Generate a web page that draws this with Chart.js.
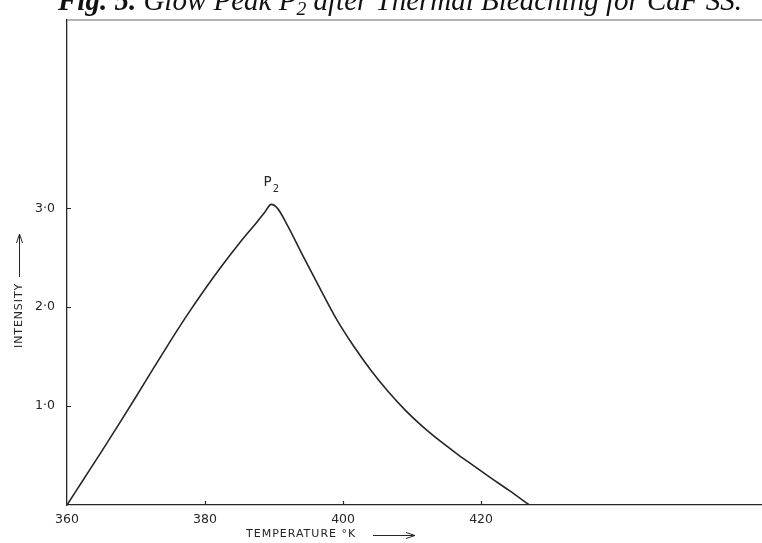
<!DOCTYPE html>
<html>
<head>
<meta charset="utf-8">
<script src="https://cdn.jsdelivr.net/npm/chart.js@4.4.1/dist/chart.umd.min.js"></script>
<style>
  html, body { margin: 0; padding: 0; background: #fff; }
  #glowChart { display: block; }
</style>
</head>
<body>
<canvas id="glowChart" width="762" height="543"></canvas>
<script>
// glow curve readings, temperature in degrees K against relative intensity
const temperatureK = [360, 362.5, 365, 367.5, 370, 372.5, 375, 377.5, 380, 382.5, 385, 387.5, 388.6, 389.6,
                      390.5, 392, 394, 396.5, 399, 401.5, 404, 406.5, 409, 411.5, 414, 416.5, 419, 421.5, 424, 427];
const intensity    = [0, 0.27, 0.54, 0.815, 1.095, 1.38, 1.66, 1.93, 2.185, 2.425, 2.65, 2.86, 2.955, 3.04,
                      3.00, 2.82, 2.545, 2.21, 1.885, 1.61, 1.365, 1.15, 0.96, 0.795, 0.65, 0.518, 0.393, 0.27, 0.15, 0];

const xTicks = [360, 380, 400, 420];
const yTicks = [1, 2, 3];
const peakLabel = 'P';
const peakSub = '2';

const INK = '#262626';
const chartEl = document.getElementById('glowChart');

// inner tick marks, top frame line, axis captions and the figure title
const decorations = {
    id: 'decorations',
    afterDraw(chart) {
        const ctx = chart.ctx;
        const area = chart.chartArea;
        const xs = chart.scales.x;
        const ys = chart.scales.y;
        ctx.save();

        // top frame line
        ctx.strokeStyle = '#6a6a6a';
        ctx.lineWidth = 1.2;
        ctx.beginPath();
        ctx.moveTo(area.left, area.top + 0.5);
        ctx.lineTo(area.right, area.top + 0.5);
        ctx.stroke();

        // ticks pointing into the plot
        ctx.strokeStyle = INK;
        ctx.lineWidth = 1.2;
        ctx.beginPath();
        xTicks.slice(1).forEach(v => {
            const px = Math.round(xs.getPixelForValue(v)) + 0.5;
            ctx.moveTo(px, area.bottom);
            ctx.lineTo(px, area.bottom - 4);
        });
        yTicks.forEach(v => {
            const py = Math.round(ys.getPixelForValue(v)) + 0.5;
            ctx.moveTo(area.left, py);
            ctx.lineTo(area.left + 4, py);
        });
        ctx.stroke();

        // P2 above the peak
        let peakIdx = 0;
        intensity.forEach((v, i) => { if (v > intensity[peakIdx]) peakIdx = i; });
        const pkX = xs.getPixelForValue(temperatureK[peakIdx]);
        const pkY = ys.getPixelForValue(intensity[peakIdx]);
        ctx.fillStyle = INK;
        ctx.textBaseline = 'alphabetic';
        ctx.textAlign = 'left';
        ctx.font = '13.5px "DejaVu Sans"';
        const pw = ctx.measureText(peakLabel).width;
        ctx.font = '10px "DejaVu Sans"';
        const sw = ctx.measureText(peakSub).width;
        const startX = pkX - (pw + sw + 1) / 2;
        ctx.font = '13.5px "DejaVu Sans"';
        ctx.fillText(peakLabel, startX, pkY - 18);
        ctx.font = '10px "DejaVu Sans"';
        ctx.fillText(peakSub, startX + pw + 1, pkY - 12);

        // x axis caption with arrow
        ctx.font = '11px "DejaVu Sans"';
        ctx.letterSpacing = '1px';
        ctx.textBaseline = 'middle';
        ctx.fillText('TEMPERATURE \u00B0K', 246, 534);
        ctx.letterSpacing = '0px';
        ctx.lineWidth = 1;
        ctx.beginPath();
        ctx.moveTo(373, 535.5);
        ctx.lineTo(415, 535.5);
        ctx.moveTo(406, 532.5);
        ctx.lineTo(415, 535.5);
        ctx.lineTo(406, 538.5);
        ctx.stroke();

        // y axis caption with arrow
        ctx.save();
        ctx.translate(19, 348);
        ctx.rotate(-Math.PI / 2);
        ctx.font = '11px "DejaVu Sans"';
        ctx.letterSpacing = '0.9px';
        ctx.fillText('INTENSITY', 0, 0);
        ctx.restore();
        ctx.beginPath();
        ctx.moveTo(19.5, 277);
        ctx.lineTo(19.5, 234);
        ctx.moveTo(16.5, 243);
        ctx.lineTo(19.5, 234);
        ctx.lineTo(22.5, 243);
        ctx.stroke();

        // figure title, partly above the canvas edge
        const parts = [
            { t: 'Fig. 5.', w: 'bold', sub: false },
            { t: ' Glow Peak P', w: 'normal', sub: false },
            { t: '2', w: 'normal', sub: true },
            { t: ' after Thermal Bleaching for CaF SS.', w: 'normal', sub: false }
        ];
        const size = 29;
        const fontFor = p => `italic ${p.w} ${p.sub ? size * 0.68 : size}px "Liberation Serif"`;
        let tx = 58;
        ctx.textBaseline = 'alphabetic';
        ctx.fillStyle = '#111';
        parts.forEach(p => {
            ctx.font = fontFor(p);
            ctx.fillText(p.t, tx, p.sub ? 15 : 10);
            tx += ctx.measureText(p.t).width;
        });

        ctx.restore();
    }
};

new Chart(chartEl, {
    type: 'line',
    data: {
        datasets: [{
            data: temperatureK.map((t, i) => ({ x: t, y: intensity[i] })),
            borderColor: INK,
            borderWidth: 1.6,
            pointRadius: 0,
            fill: false,
            cubicInterpolationMode: 'monotone'
        }]
    },
    options: {
        responsive: false,
        animation: false,
        events: [],
        layout: { padding: { top: 17, right: 0, left: 0, bottom: 0 } },
        plugins: {
            legend: { display: false },
            tooltip: { enabled: false }
        },
        scales: {
            x: {
                type: 'linear',
                min: 360,
                max: 460.7,
                afterBuildTicks: s => { s.ticks = xTicks.map(v => ({ value: v })); },
                afterFit: s => { s.height = 38; },
                grid: { display: false, drawTicks: false },
                border: { display: true, color: INK, width: 1.3 },
                ticks: {
                    padding: 7,
                    color: INK,
                    font: { family: 'DejaVu Sans', size: 12.5 },
                    maxRotation: 0,
                    callback: v => String(v)
                }
            },
            y: {
                min: 0,
                max: 4.91,
                afterBuildTicks: s => { s.ticks = yTicks.map(v => ({ value: v })); },
                afterFit: s => { s.width = 67; },
                grid: { display: false, drawTicks: false },
                border: { display: true, color: INK, width: 1.3 },
                ticks: {
                    padding: 12,
                    color: INK,
                    font: { family: 'DejaVu Sans', size: 12.5 },
                    callback: v => v.toFixed(1).replace('.', '\u00B7')
                }
            }
        }
    },
    plugins: [decorations]
});
</script>
</body>
</html>
